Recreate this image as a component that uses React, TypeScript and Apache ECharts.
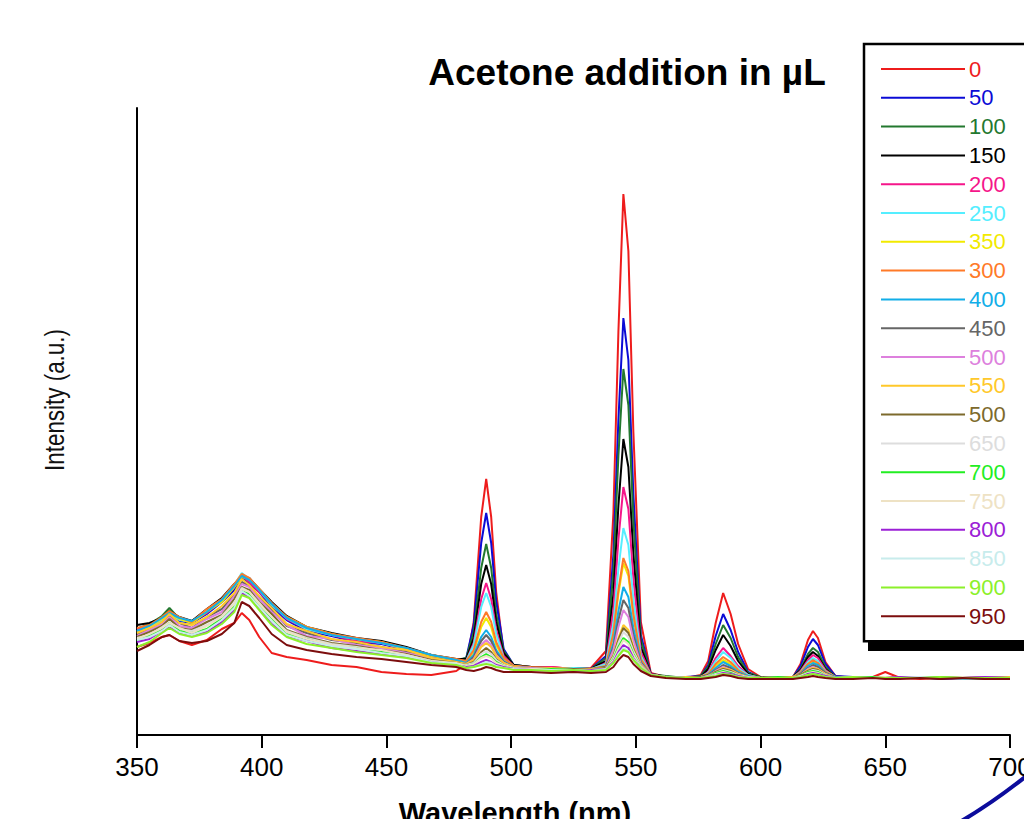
import React, { useEffect, useRef } from "react";
import * as echarts from "echarts";

// Wavelength grid (nm)
const WAVELENGTH = [
  350, 355, 360, 363, 367, 372, 378, 384, 389, 392, 395, 399, 404, 410, 418, 428, 438, 448, 458, 468, 478,
  482, 485, 488, 490, 492, 494, 497, 501,
  508, 516, 525, 532,
  538, 541, 543, 545, 547, 549, 552, 556,
  562, 570,
  576, 579, 582, 585, 588, 591, 595, 600,
  607,
  613, 616, 619, 621, 623, 626, 630,
  637, 645, 650, 656, 664, 672, 681, 690, 700,
];

// Intensities (a.u.) per acetone addition
const I_0 = [88,92,98,100,94,90,95,106,112,122,115,98,82,78,75,70,68,63,61,60,64, 71,113,218,256,218,143,82,67, 67,68,66,67, 84,222,403,541,484,303,113,62, 58,57, 60,74,112,142,121,91,66,58, 57, 58,71,95,104,97,73,59, 57,58,63,57,56,57,56,57,56];
const I_50 = [105,109,115,123,114,112,121,133,145,158,151,143,128,115,104,99,93,91,85,79,74, 77,110,192,222,192,134,86,70, 68,67,67,66, 79,181,315,417,375,241,100,61, 58,58, 59,70,99,121,105,83,63,57, 58, 58,69,88,96,90,71,59, 58,57,58,57,58,56,57,58,57];
const I_100 = [106,111,119,127,116,114,124,136,149,159,156,144,131,118,106,101,95,93,86,80,75, 77,103,167,191,167,121,84,70, 68,66,67,66, 77,164,279,366,330,215,95,61, 59,57, 59,68,91,110,97,78,62,58, 57, 58,66,81,87,83,68,58, 57,58,57,58,57,58,57,56,57];
const I_150 = [110,112,117,124,118,114,126,137,151,158,157,146,133,119,108,102,97,94,88,80,76, 76,97,151,170,151,113,82,70, 68,67,66,66, 74,141,229,296,268,181,88,61, 58,58, 58,66,85,100,89,74,61,57, 57, 58,65,78,83,79,66,58, 58,57,58,57,57,58,57,58,57];
const I_200 = [106,109,117,122,116,113,122,135,148,159,153,143,131,116,106,100,94,92,85,78,74, 74,92,136,152,136,105,79,69, 67,68,66,65, 72,125,195,248,226,157,83,61, 58,57, 58,63,77,87,79,69,60,57, 58, 57,64,75,80,77,65,58, 57,58,57,58,57,57,58,57,56];
const I_250 = [104,108,115,121,115,113,124,134,150,162,156,145,130,117,106,100,96,92,86,80,75, 74,90,128,142,128,101,77,69, 67,66,67,66, 71,112,166,207,190,136,79,60, 58,58, 58,62,74,83,77,67,60,57, 57, 58,63,73,77,74,64,58, 58,57,57,58,57,58,56,57,57];
const I_350 = [103,109,116,122,116,112,123,133,148,158,156,146,131,118,108,101,96,93,86,79,75, 73,83,108,117,108,90,76,69, 67,67,66,65, 69,100,141,172,159,119,76,60, 58,57, 58,61,69,75,71,64,59,57, 57, 57,62,71,74,71,63,58, 57,58,57,57,58,57,57,58,57];
const I_300 = [107,110,118,124,118,113,126,136,151,161,157,146,132,118,108,101,97,93,87,80,76, 74,85,113,123,113,93,77,69, 68,67,66,66, 69,102,145,177,164,121,76,60, 58,58, 58,61,71,78,73,65,59,57, 58, 58,62,71,75,72,63,58, 58,57,58,57,58,57,58,57,57];
const I_400 = [104,109,117,122,117,114,123,135,149,159,155,145,131,117,107,100,96,92,87,80,75, 72,80,98,105,98,85,74,68, 67,66,66,65, 68,92,124,148,138,107,73,60, 58,57, 57,60,67,73,69,63,59,57, 57, 57,61,69,72,70,62,58, 57,58,57,58,57,58,57,57,58];
const I_450 = [101,106,112,119,112,107,118,126,140,153,149,138,125,109,102,95,92,88,83,77,73, 71,78,94,100,94,82,73,68, 66,67,65,66, 68,88,115,135,127,100,72,60, 58,58, 58,60,65,70,67,62,58,57, 57, 57,61,67,70,68,62,57, 58,57,57,58,57,57,58,57,57];
const I_500 = [99,105,111,118,109,107,116,123,139,151,148,136,123,110,99,96,90,87,82,77,72, 71,76,90,95,90,80,72,68, 67,66,66,65, 67,85,108,125,118,95,71,60, 58,57, 57,59,64,68,65,61,58,57, 58, 57,60,66,68,66,61,57, 57,58,57,57,58,57,57,58,57];
const I_550 = [102,107,113,121,112,110,118,129,142,156,150,139,127,111,104,96,93,88,85,77,73, 71,75,88,92,88,79,72,68, 66,67,65,66, 67,80,97,110,105,88,70,60, 58,58, 57,59,63,67,65,61,58,57, 57, 58,60,65,67,66,61,57, 57,57,58,57,57,58,57,57,58];
const I_500B = [98,103,109,116,107,105,113,120,136,148,145,133,121,105,98,92,89,85,81,75,72, 70,73,83,87,83,76,70,67, 66,65,66,65, 67,79,95,107,102,86,69,60, 58,57, 57,59,63,66,64,60,58,57, 57, 57,60,64,66,65,60,57, 57,57,57,58,57,57,58,57,57];
const I_650 = [97,100,108,113,106,104,110,119,132,147,143,132,117,104,97,91,88,84,80,74,71, 70,72,81,84,81,75,70,67, 66,66,65,65, 66,78,92,103,98,84,69,60, 58,57, 57,59,62,65,63,60,58,57, 57, 57,59,63,65,64,60,57, 58,57,57,57,58,57,57,57,57];
const I_700 = [94,100,105,112,104,102,106,117,129,144,141,129,117,101,96,89,87,83,79,73,71, 69,71,78,81,78,73,69,66, 65,66,65,64, 66,76,88,97,93,81,68,60, 58,57, 57,58,62,64,62,59,57,57, 58, 57,59,63,64,63,59,57, 57,58,57,57,57,58,57,57,57];
const I_750 = [96,101,107,112,107,102,109,118,131,146,143,131,118,103,96,90,87,85,80,74,72, 69,71,77,79,77,72,69,66, 66,65,65,65, 66,75,86,95,91,80,68,60, 58,57, 57,58,61,63,61,59,57,57, 57, 57,59,62,63,62,59,57, 57,57,58,57,57,57,58,57,57];
const I_800 = [93,96,104,108,102,100,103,113,125,142,138,127,111,99,94,87,84,81,78,73,70, 68,69,73,75,73,70,68,66, 65,65,64,65, 66,73,83,90,87,77,67,60, 58,57, 57,58,60,62,61,59,57,57, 57, 57,58,61,62,61,59,57, 57,57,57,58,57,57,57,58,57];
const I_850 = [95,98,104,110,103,100,105,115,127,144,139,128,114,100,94,89,86,82,79,73,71, 67,68,71,73,72,69,67,66, 65,65,65,64, 66,72,81,87,84,76,67,60, 58,57, 57,58,60,61,60,58,57,57, 57, 57,58,60,61,60,58,57, 57,57,57,57,58,57,57,57,57];
const I_900 = [88,93,102,107,101,98,102,111,123,140,137,125,110,98,91,87,83,80,77,72,70, 67,68,70,71,70,68,67,65, 65,64,65,64, 65,72,79,85,83,75,67,60, 58,57, 57,58,59,61,60,58,57,57, 57, 57,58,60,61,60,58,57, 58,57,57,57,57,58,57,57,57];
const I_950 = [84,90,98,100,94,92,94,101,112,133,129,117,101,90,85,81,78,76,73,70,68, 65,64,66,68,67,65,63,63, 63,62,63,62, 63,68,75,80,78,71,64,59, 57,56, 56,57,58,60,59,57,56,56, 56, 56,57,58,59,58,57,56, 56,57,56,56,57,56,57,56,56];

const SERIES_NAMES = ["0", "50", "100", "150", "200", "250", "350", "300", "400", "450", "500", "550", "500 ", "650", "700", "750", "800", "850", "900", "950"];
const SERIES_COLORS = [
  "#ee1c1c", "#0b0bd6", "#23782f", "#000000", "#f5168a", "#55eeff", "#f2ea00", "#ff7a28", "#12aee8", "#666666",
  "#dd80dd", "#ffc82a", "#7d6a2c", "#dddddd", "#22ee22", "#eee2c4", "#9b20d6", "#c8ecec", "#8cf02a", "#7c0d0d",
];
const INTENSITIES = [I_0, I_50, I_100, I_150, I_200, I_250, I_350, I_300, I_400, I_450, I_500, I_550, I_500B, I_650, I_700, I_750, I_800, I_850, I_900, I_950];

const TITLE = "Acetone addition in µL";
const X_NAME = "Wavelength (nm)";
const Y_NAME = "Intensity (a.u.)";

const SANS = "'Liberation Sans', Arial, Helvetica, sans-serif";

export default function App() {
  const ref = useRef<HTMLDivElement>(null);
  useEffect(() => {
    if (!ref.current) return;
    const chart = echarts.init(ref.current, undefined, { renderer: "svg" });
    const series = SERIES_NAMES.map((name, i) => ({
      name,
      type: "line",
      data: WAVELENGTH.map((w, k) => [w, INTENSITIES[i][k]]),
      showSymbol: false,
      symbol: "none",
      lineStyle: { color: SERIES_COLORS[i], width: 2 },
      itemStyle: { color: SERIES_COLORS[i] },
      z: 2,
    }));
    chart.setOption({
      animation: false,
      backgroundColor: "#ffffff",
      grid: { left: 137, right: 14, top: 108, bottom: 84, containLabel: false, outerBoundsMode: "none" },
      xAxis: {
        type: "value",
        min: 350,
        max: 700,
        interval: 50,
        axisLine: { show: true, lineStyle: { color: "#000", width: 2 } },
        axisTick: { show: true, length: 13, lineStyle: { color: "#000", width: 2 } },
        axisLabel: { fontSize: 26, color: "#000", margin: 19, fontFamily: SANS },
        splitLine: { show: false },
      },
      yAxis: {
        type: "value",
        min: 0,
        max: 627,
        axisLine: { show: true, lineStyle: { color: "#000", width: 2 } },
        axisTick: { show: false },
        axisLabel: { show: false },
        splitLine: { show: false },
      },
      legend: {
        orient: "vertical",
        left: 864,
        top: 44,
        padding: [14, 40, 14, 17],
        itemWidth: 84,
        itemHeight: 2,
        itemGap: 6.8,
        icon: "rect",
        backgroundColor: "#ffffff",
        borderColor: "#000000",
        borderWidth: 2.5,
        z: 10,
        textStyle: { fontSize: 22, lineHeight: 22, fontFamily: SANS, padding: [0, 0, 0, -1] },
        data: SERIES_NAMES.map((n, i) => ({ name: n, textStyle: { color: SERIES_COLORS[i] } })),
        selectedMode: false,
      },
      graphic: [
        {
          type: "rect",
          z: 5,
          shape: { x: 868, y: 51, width: 220, height: 600 },
          style: { fill: "#000" },
          silent: true,
        },
        {
          type: "text",
          x: 627,
          y: 72,
          style: {
            text: TITLE,
            font: "bold 37px " + SANS,
            fill: "#000",
            align: "center",
            verticalAlign: "middle",
            textAlign: "center",
            textVerticalAlign: "middle",
          },
        },
        {
          type: "text",
          x: 54,
          y: 400,
          rotation: Math.PI / 2,
          scaleX: 0.8,
          style: {
            text: Y_NAME,
            font: "28px " + SANS,
            fill: "#111",
            align: "center",
            verticalAlign: "middle",
            textAlign: "center",
            textVerticalAlign: "middle",
          },
        },
        {
          type: "text",
          x: 515,
          y: 813,
          style: {
            text: X_NAME,
            font: "bold 29px " + SANS,
            fill: "#000",
            align: "center",
            verticalAlign: "middle",
            textAlign: "center",
            textVerticalAlign: "middle",
          },
        },
        {
          type: "bezierCurve",
          shape: { x1: 945, y1: 830, cpx1: 988, cpy1: 808, x2: 1040, y2: 765 },
          style: { stroke: "#0c0c9c", lineWidth: 4, fill: "none" },
          silent: true,
        },
      ],
      series,
    });
    return () => chart.dispose();
  }, []);
  return (
    <div
      ref={ref}
      style={{ position: "fixed", left: 0, top: 0, width: 1024, height: 819, background: "#fff" }}
    />
  );
}
